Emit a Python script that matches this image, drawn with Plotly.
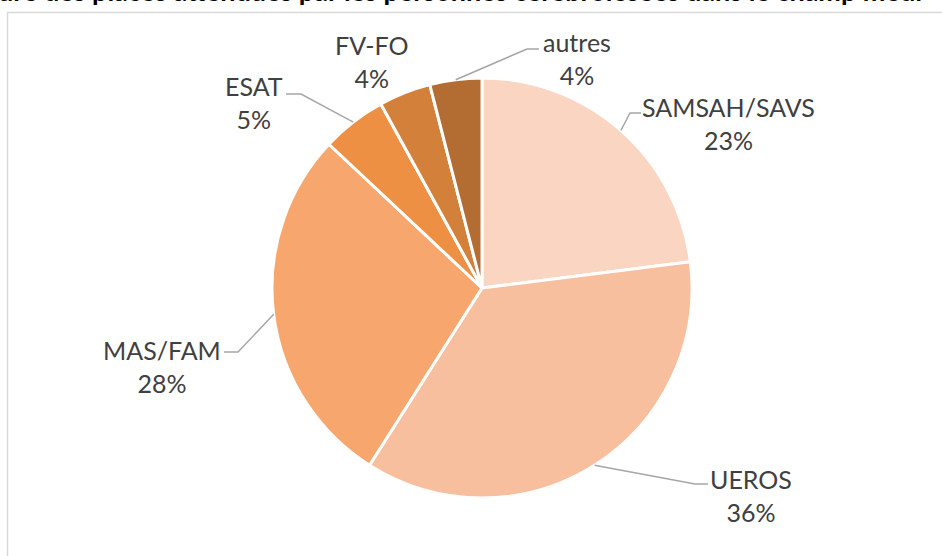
import math
import plotly.graph_objects as go

# ---- data ----
categories = ["SAMSAH/SAVS", "UEROS", "MAS/FAM", "ESAT", "FV-FO", "autres"]
values = [23, 36, 28, 5, 4, 4]
title_text = "ure des places attendues par les personnes cérébrolésées dans le champ médi"

# ---- style ----
colors = ["#F9D5C2", "#F8BF9F", "#F7A76E", "#ED9044", "#D3803B", "#B36D32"]
W, H = 942, 556
CX, CY, R = 482, 288, 210
FONT = "Lato"
label_pos = {  # label block centre (pixels)
    "SAMSAH/SAVS": (728, 123),
    "UEROS": (751, 495),
    "MAS/FAM": (162, 366),
    "ESAT": (254, 102),
    "FV-FO": (372, 61),
    "autres": (577, 58),
}
leader = {  # elbow and end points of leader lines (pixels)
    "SAMSAH/SAVS": [(630, 113), (641, 113)],
    "UEROS": [(695, 484), (708, 484)],
    "MAS/FAM": [(238, 352), (224, 352)],
    "ESAT": [(301, 94), (286, 94)],
    "autres": [(527, 49), (539, 49)],
}

fig = go.Figure()
fig.add_trace(go.Pie(
    labels=categories, values=values, sort=False, direction="clockwise",
    rotation=0, textinfo="none", hoverinfo="label+percent",
    marker=dict(colors=colors, line=dict(color="white", width=3)),
    domain=dict(x=[(CX - R) / W, (CX + R) / W],
                y=[(H - CY - R) / H, (H - CY + R) / H]),
    showlegend=False,
))

total = sum(values)
cum = 0
shapes = []
annotations = []
for cat, v in zip(categories, values):
    mid = (cum + v / 2) / total * 2 * math.pi
    cum += v
    sx = CX + R * math.sin(mid)
    sy = CY - R * math.cos(mid)
    if cat in leader:
        pts = [(sx, sy)] + leader[cat]
        path = "M " + " L ".join(f"{x:.1f},{y:.1f}" for x, y in pts)
        shapes.append(dict(type="path", path=path, xref="x", yref="y",
                           line=dict(color="#A6A6A6", width=1.5)))
    lx, ly = label_pos[cat]
    pct = round(v / total * 100)
    annotations.append(dict(x=lx, y=ly, xref="x", yref="y", showarrow=False,
                            text=f"{cat}<br>{pct}%", align="center",
                            font=dict(family=FONT, size=25, color="#404040")))

# chart frame
shapes.append(dict(type="rect", xref="x", yref="y", x0=7.5, y0=12.5, x1=960, y1=570,
                   line=dict(color="#D9D9D9", width=1.5), layer="below"))

annotations.append(dict(x=-4 / W, y=1 - 9 / H, xref="paper", yref="paper",
                        xanchor="left", yanchor="bottom", showarrow=False,
                        text=f"<b>{title_text}</b>",
                        font=dict(family=FONT, size=27, color="black")))

fig.update_layout(
    width=W, height=H, margin=dict(l=0, r=0, t=0, b=0),
    paper_bgcolor="white", plot_bgcolor="rgba(0,0,0,0)",
    xaxis=dict(range=[0, W], visible=False, fixedrange=True),
    yaxis=dict(range=[H, 0], visible=False, fixedrange=True),
    shapes=shapes, annotations=annotations,
)
fig.write_html("out.html", config={"displayModeBar": False},
               post_script="document.body.style.margin='0';document.body.style.overflow='hidden';")
